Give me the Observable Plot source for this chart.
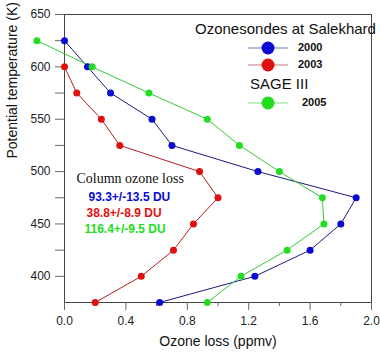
<!DOCTYPE html>
<html><head><meta charset="utf-8">
<script src="https://cdn.jsdelivr.net/npm/d3@7"></script>
<script src="https://cdn.jsdelivr.net/npm/@observablehq/plot@0.6"></script>
<style>
body{margin:0;background:#fff;}
#wrap{position:relative;width:380px;height:352px;font-family:"Liberation Sans",Arial,sans-serif;}
#legend{position:absolute;left:0;top:0;width:380px;height:352px;pointer-events:none;}
.lt{position:absolute;white-space:nowrap;color:#111;}
</style></head>
<body><div id="wrap"><div id="chart"></div><div id="legend"></div></div>
<script>
const theta = [625,600,575,550,525,500,475,450,425,400,375];
const loss2000 = [0.00,0.15,0.30,0.57,0.70,1.26,1.90,1.80,1.60,1.24,0.62];
const theta2003 = [600,575,550,525,500,475,450,425,400,375];
const loss2003 = [0.00,0.08,0.24,0.36,0.88,1.00,0.84,0.71,0.50,0.20];
const loss2005 = [-0.18,0.18,0.55,0.93,1.14,1.40,1.68,1.69,1.45,1.15,0.93];
const xTicks = [0,0.4,0.8,1.2,1.6,2.0];
const xMinor = [0.2,0.6,1.0,1.4,1.8];
const yTicks = [400,450,500,550,600,650];
const yMinor = [425,475,525,575,625];
const seriesNames = ["2000","2003","2005"];
const colors = {"2000":"#0a0ad0","2003":"#e01010","2005":"#22dd22"};
const lineColors = {"2000":"#1a1a80","2003":"#b02020","2005":"#33cc33"};
const lossLabels = ["93.3+/-13.5 DU","38.8+/-8.9 DU","116.4+/-9.5 DU"];

const data = [
  ...theta.map((t,i)=>({s:"2000",t,v:loss2000[i]})),
  ...theta2003.map((t,i)=>({s:"2003",t,v:loss2003[i]})),
  ...theta.map((t,i)=>({s:"2005",t,v:loss2005[i]}))
];

const lossOffsets = [[24,178],[22,194],[20,210]];

const chart = Plot.plot({
  width:380, height:352,
  marginLeft:64, marginRight:9, marginTop:14, marginBottom:50,
  style:{fontFamily:"Liberation Sans, Arial, sans-serif", background:"#fff"},
  x:{domain:[0,2]},
  y:{domain:[375,650]},
  marks:[
    Plot.frame({stroke:"#444"}),
    Plot.axisX({ticks:xTicks, tickFormat:d3.format(".1f"), tickSize:8, tickPadding:6, fontSize:12, fill:"#222", stroke:"#666", label:null}),
    Plot.axisX({ticks:xMinor, tickSize:4, text:null, stroke:"#666", label:null}),
    Plot.axisY({ticks:yTicks, tickSize:9, tickPadding:5, fontSize:12, fill:"#222", stroke:"#666", label:null}),
    Plot.axisY({ticks:yMinor, tickSize:9, text:null, stroke:"#666", label:null}),
    Plot.text(["Ozone loss (ppmv)"], {frameAnchor:"bottom", dy:43, fontSize:14, fill:"#111"}),
    Plot.text(["Potential temperature (K)"], {frameAnchor:"left", rotate:-90, dx:-52, fontSize:14, fill:"#111"}),
    Plot.line(data, {x:"v", y:"t", z:"s", stroke:d=>lineColors[d.s], strokeWidth:1}),
    Plot.dot(data, {x:"v", y:"t", fill:d=>colors[d.s], r:3.5, stroke:null}),
    Plot.text(["Column ozone loss"], {frameAnchor:"top-left", dx:12, dy:159, textAnchor:"start", fontSize:14, fontFamily:"Liberation Serif, Times New Roman, serif", fill:"#111", style:"letter-spacing:0.5px"}),
    ...lossLabels.map((lab,i)=>Plot.text([lab], {frameAnchor:"top-left", dx:lossOffsets[i][0], dy:lossOffsets[i][1], textAnchor:"start", fontSize:12, fontWeight:"bold", fill:colors[seriesNames[i]]}))
  ]
});
document.getElementById("chart").appendChild(chart);

// legend overlay
const lg = document.getElementById("legend");
function addText(txt, x, y, size, weight){
  const d=document.createElement("div"); d.className="lt"; d.textContent=txt;
  d.style.left=x+"px"; d.style.top=y+"px"; d.style.fontSize=size+"px"; if(weight) d.style.fontWeight=weight;
  lg.appendChild(d);
}
function addSwatch(name, x, y){
  const s=d3.create("svg").attr("width",44).attr("height",16).style("position","absolute").style("left",x+"px").style("top",y+"px");
  s.append("line").attr("x1",0).attr("x2",40).attr("y1",8).attr("y2",8).attr("stroke",lineColors[name]).attr("stroke-opacity",0.6).attr("stroke-width",1.2);
  s.append("circle").attr("cx",20).attr("cy",8).attr("r",6.5).attr("fill",colors[name]);
  lg.appendChild(s.node());
}
addText("Ozonesondes at Salekhard",195,20,15);
addSwatch("2000",248,40); addText(seriesNames[0],298,41,11,"bold");
addSwatch("2003",248,57); addText(seriesNames[1],298,58,11,"bold");
addText("SAGE III",250,75,15);
addSwatch("2005",248,95); addText(seriesNames[2],302,96,11,"bold");
</script></body></html>
